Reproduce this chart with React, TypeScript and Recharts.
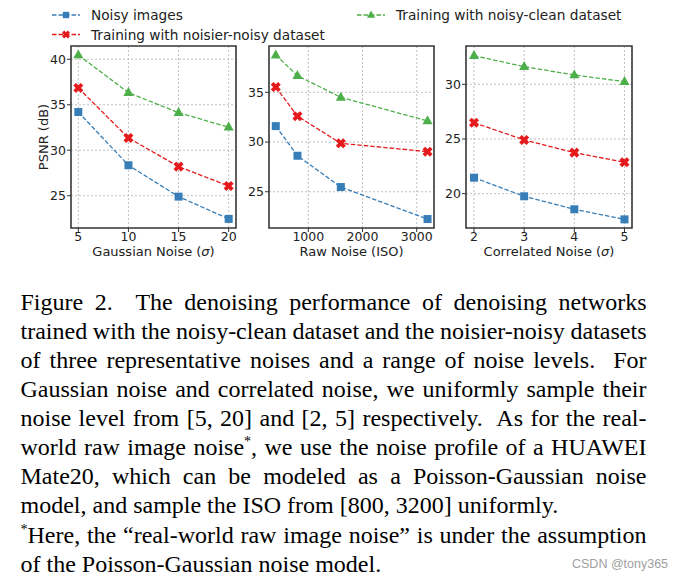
import { LineChart, Line, XAxis, YAxis, CartesianGrid, ReferenceArea } from 'recharts';

const seriesNames = ['Noisy images', 'Training with noisier-noisy dataset', 'Training with noisy-clean dataset'];
const seriesKeys = ['noisy', 'noisier', 'clean'];
const seriesColors = ['#377eb8', '#e41a1c', '#4daf4a'];

// Gaussian noise (sigma)
const gaussianLevels = [5, 10, 15, 20];
const gaussianNoisy = [34.2, 28.35, 24.9, 22.45];
const gaussianNoisier = [36.85, 31.35, 28.2, 26.07];
const gaussianClean = [40.47, 36.33, 34.13, 32.53];
const gaussianXTicks = [5, 10, 15, 20];
const gaussianYTicks = [25, 30, 35, 40];

// Raw noise (ISO)
const rawIso = [400, 800, 1600, 3200];
const rawNoisy = [31.6, 28.62, 25.47, 22.25];
const rawNoisier = [35.53, 32.6, 29.87, 29.03];
const rawClean = [38.75, 36.67, 34.5, 32.12];
const rawXTicks = [1000, 2000, 3000];
const rawYTicks = [25, 30, 35];

// Correlated noise (sigma)
const corrLevels = [2, 3, 4, 5];
const corrNoisy = [21.46, 19.76, 18.57, 17.65];
const corrNoisier = [26.49, 24.91, 23.75, 22.87];
const corrClean = [32.62, 31.61, 30.85, 30.24];
const corrXTicks = [2, 3, 4, 5];
const corrYTicks = [20, 25, 30];

const captionLines = [
  'Figure 2.\u00a0 The denoising performance of denoising networks',
  'trained with the noisy-clean dataset and the noisier-noisy datasets',
  'of three representative noises and a range of noise levels.\u00a0 For',
  'Gaussian noise and correlated noise, we uniformly sample their',
  'noise level from [5, 20] and [2, 5] respectively.\u00a0 As for the real-',
];
const sansFont = '"DejaVu Sans", sans-serif';
const serifFont = '"Liberation Serif", "Times New Roman", serif';

function Marker({ kind, cx, cy, color, s = 1 }: any) {
  if (cx == null || cy == null) return null;
  if (kind === 'noisy') {
    const h = 4 * s;
    return <rect x={cx - h} y={cy - h} width={2 * h} height={2 * h} fill={color} />;
  }
  if (kind === 'noisier') {
    const r = 5.2 * s;
    const t = 1.9 * s;
    const pts = [
      [t, r], [t, t], [r, t], [r, -t], [t, -t], [t, -r],
      [-t, -r], [-t, -t], [-r, -t], [-r, t], [-t, t], [-t, r],
    ];
    const c = Math.SQRT1_2;
    const rot = pts.map(([a, b]) => `${cx + (a - b) * c},${cy + (a + b) * c}`).join(' ');
    return <polygon points={rot} fill={color} />;
  }
  const r = 5.6 * s;
  return (
    <polygon
      points={`${cx},${cy - r} ${cx + r * 0.9},${cy + r * 0.6} ${cx - r * 0.9},${cy + r * 0.6}`}
      fill={color}
    />
  );
}

function XTitle({ viewBox, text }: any) {
  if (!viewBox) return null;
  const x = viewBox.x + viewBox.width / 2;
  const y = viewBox.y + viewBox.height / 2 + 1;
  const parts = text.split('σ');
  return (
    <text x={x} y={y} textAnchor="middle" dominantBaseline="central" fontSize={13} fill="#222" fontFamily={sansFont}>
      {parts[0]}
      {parts.length > 1 && <tspan fontStyle="italic">σ</tspan>}
      {parts.length > 1 && parts[1]}
    </text>
  );
}

function YTitle({ viewBox, text }: any) {
  if (!viewBox) return null;
  const x = viewBox.x + viewBox.width / 2;
  const y = viewBox.y + viewBox.height / 2;
  return (
    <text x={x} y={y} transform={`rotate(-90 ${x} ${y})`} textAnchor="middle" dominantBaseline="central"
      fontSize={13} fill="#222" fontFamily={sansFont}>
      {text}
    </text>
  );
}

function Panel({ levels, noisy, noisier, clean, xTicks, yTicks, xDomain, yDomain, xTitle, yTitle, left, width, yAxisWidth, marginLeft }: any) {
  const data = levels.map((x: number, i: number) => ({ x, noisy: noisy[i], noisier: noisier[i], clean: clean[i] }));
  const tick = { fontSize: 12.5, fill: '#222', fontFamily: sansFont };
  return (
    <div style={{ position: 'absolute', left, top: 0 }}>
      <LineChart width={width} height={272} data={data} margin={{ top: 46, right: 8, bottom: 0, left: marginLeft }}>
        <CartesianGrid stroke="#b0b0b0" strokeDasharray="2 2" strokeWidth={0.8} />
        <XAxis dataKey="x" type="number" domain={xDomain} ticks={xTicks} allowDataOverflow
          axisLine={false} tickLine={{ stroke: '#333' }} tickSize={4} tickMargin={0} height={44} tick={tick}
          label={{ content: (p: any) => <XTitle viewBox={p.viewBox} text={xTitle} /> }} />
        <YAxis type="number" domain={yDomain} ticks={yTicks} allowDataOverflow width={yAxisWidth}
          axisLine={false} tickLine={{ stroke: '#333' }} tickSize={4} tickMargin={1} tick={tick}
          label={yTitle ? { content: (p: any) => <YTitle viewBox={p.viewBox} text={yTitle} /> } : undefined} />
        {seriesKeys.map((k, i) => (
          <Line key={k} dataKey={k} stroke={seriesColors[i]} strokeWidth={1.3} strokeDasharray="4.5 2"
            isAnimationActive={false}
            dot={(p: any) => <Marker key={`${k}-${p.index}`} kind={k} cx={p.cx} cy={p.cy} color={seriesColors[i]} />}
            activeDot={false} />
        ))}
        <ReferenceArea x1={xDomain[0]} x2={xDomain[1]} y1={yDomain[0]} y2={yDomain[1]}
          fill="none" fillOpacity={0} stroke="#3a3a3a" strokeWidth={1.6} ifOverflow="visible" />
      </LineChart>
    </div>
  );
}

function LegendItem({ idx, x, y }: any) {
  const color = seriesColors[idx];
  return (
    <g>
      <line x1={x} y1={y} x2={x + 28} y2={y} stroke={color} strokeWidth={1.3} strokeDasharray="4.5 2" />
      <Marker kind={seriesKeys[idx]} cx={x + 14} cy={y} color={color} s={0.8} />
      <text x={x + 39} y={y} dominantBaseline="central" fontSize={13.7} fill="#222" fontFamily={sansFont}>
        {seriesNames[idx]}
      </text>
    </g>
  );
}

const lineStyle = { height: 29, whiteSpace: 'nowrap' as const, overflow: 'visible' };
const justLine = { height: 29, whiteSpace: 'normal' as const, textAlign: 'justify' as const, textAlignLast: 'justify' as const, wordSpacing: -2 };

export default function App() {
  return (
    <div style={{ position: 'absolute', left: 0, top: 0, width: 682, height: 582, background: '#fff', overflow: 'hidden' }}>
      <svg width={682} height={46} style={{ position: 'absolute', left: 0, top: 0 }}>
        <LegendItem idx={0} x={52} y={15} />
        <LegendItem idx={1} x={52} y={34.5} />
        <LegendItem idx={2} x={357} y={15} />
      </svg>
      <Panel levels={gaussianLevels} noisy={gaussianNoisy} noisier={gaussianNoisier} clean={gaussianClean}
        xTicks={gaussianXTicks} yTicks={gaussianYTicks} xDomain={[4.27, 20.73]} yDomain={[21.45, 41.46]}
        xTitle="Gaussian Noise (σ)" yTitle="PSNR (dB)" left={0} width={244} yAxisWidth={56} marginLeft={15} />
      <Panel levels={rawIso} noisy={rawNoisy} noisier={rawNoisier} clean={rawClean}
        xTicks={rawXTicks} yTicks={rawYTicks} xDomain={[275, 3319]} yDomain={[21.35, 39.66]}
        xTitle="Raw Noise (ISO)" left={240} width={202} yAxisWidth={29} marginLeft={0} />
      <Panel levels={corrLevels} noisy={corrNoisy} noisier={corrNoisier} clean={corrClean}
        xTicks={corrXTicks} yTicks={corrYTicks} xDomain={[1.84, 5.15]} yDomain={[16.86, 33.5]}
        xTitle="Correlated Noise (σ)" left={437} width={203} yAxisWidth={29} marginLeft={0} />
      <div style={{ position: 'absolute', left: 20.5, top: 288, width: 626, fontFamily: serifFont, fontSize: 24, lineHeight: '29px', color: '#000' }}>
        {captionLines.map((t, i) => (
          <div key={i} style={justLine}>{t}</div>
        ))}
        <div style={justLine}>
          world raw image noise<sup style={{ fontSize: 14, lineHeight: 0 }}>*</sup>, we use the noise profile of a HUAWEI
        </div>
        <div style={justLine}>
          Mate20, which can be modeled as a Poisson-Gaussian noise
        </div>
        <div style={lineStyle}>model, and sample the ISO from [800, 3200] uniformly.</div>
        <div style={{ ...justLine, marginTop: 1 }}>
          <sup style={{ fontSize: 14, lineHeight: 0 }}>*</sup>Here, the “real-world raw image noise” is under the assumption
        </div>
        <div style={lineStyle}>of the Poisson-Gaussian noise model.</div>
      </div>
      <div style={{ position: 'absolute', left: 572, top: 557, fontFamily: '"Liberation Sans", Arial, sans-serif', fontSize: 12.5, color: '#a0a0a0' }}>
        CSDN @tony365
      </div>
    </div>
  );
}
